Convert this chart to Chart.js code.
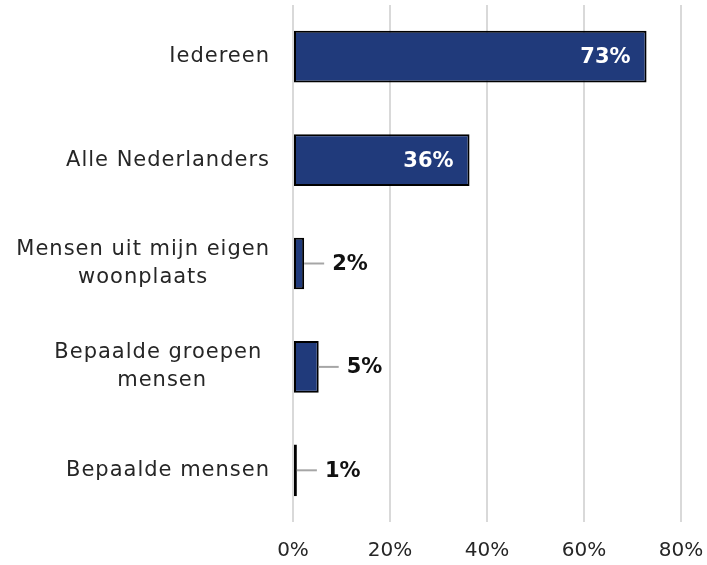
<!DOCTYPE html>
<html>
<head>
<meta charset="utf-8">
<script src="https://cdn.jsdelivr.net/npm/chart.js@4.4.0/dist/chart.umd.min.js"></script>
<style>
    html, body { margin: 0; padding: 0; background: #fff; }
</style>
</head>
<body>
<canvas id="myChart" width="707" height="565"></canvas>
<script>
// categories (multi-line ones split like in the original)
var categories = [
    ["Iedereen"],
    ["Alle Nederlanders"],
    ["Mensen uit mijn eigen", "woonplaats"],
    ["Bepaalde groepen ", "mensen"],
    ["Bepaalde mensen"]
];
// percentages
var values = [72.9, 36.4, 2.3, 5.3, 0.8];
var tickValues = [0, 20, 40, 60, 80];

var barColor = '#203a7b';
var textColor = '#262626';

// category labels, drawn at the y scale tick positions
var categoryLabels = {
    id: 'categoryLabels',
    afterDraw: function (chart) {
        var ctx = chart.ctx;
        var yScale = chart.scales.y;
        var right = chart.chartArea.left - 23;
        var lineHeight = 28;
        ctx.save();
        ctx.font = '21px "DejaVu Sans"';
        ctx.letterSpacing = '1px';
        ctx.fillStyle = textColor;
        ctx.textAlign = 'center';
        ctx.textBaseline = 'middle';
        categories.forEach(function (lines, i) {
            var y = yScale.getPixelForTick(i);
            var maxW = 0;
            lines.forEach(function (l) {
                maxW = Math.max(maxW, ctx.measureText(l).width);
            });
            var cx = right - maxW / 2;
            var top = y - (lines.length - 1) * lineHeight / 2;
            lines.forEach(function (l, j) {
                ctx.fillText(l, cx, top + j * lineHeight);
            });
        });
        ctx.restore();
    }
};

// value labels: inside the long bars, outside with a leader line for short ones
var valueLabels = {
    id: 'valueLabels',
    afterDatasetsDraw: function (chart) {
        var ctx = chart.ctx;
        var meta = chart.getDatasetMeta(0);
        ctx.save();
        ctx.font = 'bold 21px "DejaVu Sans"';
        ctx.textBaseline = 'middle';
        meta.data.forEach(function (bar, i) {
            var txt = Math.round(values[i]) + '%';
            if (values[i] > 20) {
                ctx.fillStyle = '#ffffff';
                ctx.textAlign = 'right';
                ctx.fillText(txt, bar.x - 16, bar.y + 1);
            } else {
                ctx.strokeStyle = '#a6a6a6';
                ctx.lineWidth = 2;
                ctx.beginPath();
                ctx.moveTo(bar.x, bar.y);
                ctx.lineTo(bar.x + 20, bar.y);
                ctx.stroke();
                ctx.fillStyle = '#111111';
                ctx.textAlign = 'left';
                ctx.fillText(txt, bar.x + 28, bar.y + 1);
            }
        });
        ctx.restore();
    }
};

var chart = new Chart(document.getElementById('myChart'), {
    type: 'bar',
    data: {
        labels: categories,
        datasets: [{
            data: values,
            backgroundColor: barColor,
            borderColor: '#000000',
            borderWidth: 2,
            borderSkipped: false,
            categoryPercentage: 1,
            barPercentage: 0.5
        }]
    },
    options: {
        indexAxis: 'y',
        responsive: false,
        animation: false,
        layout: {
            padding: {left: 293, right: 26, top: 5, bottom: 2}
        },
        plugins: {
            legend: {display: false},
            tooltip: {enabled: false}
        },
        scales: {
            x: {
                min: 0,
                max: 80,
                afterBuildTicks: function (scale) {
                    scale.ticks = tickValues.map(function (v) { return {value: v}; });
                },
                afterFit: function (scale) {
                    scale.height = 41;
                    scale.paddingRight = 0;
                },
                grid: {color: '#d9d9d9', lineWidth: 2, drawTicks: false},
                border: {display: false},
                ticks: {
                    padding: 17,
                    color: textColor,
                    font: {family: 'DejaVu Sans', size: 20},
                    callback: function (v) { return v + '%'; }
                }
            },
            y: {
                display: false,
                offset: true
            }
        }
    },
    plugins: [categoryLabels, valueLabels]
});
</script>
</body>
</html>
